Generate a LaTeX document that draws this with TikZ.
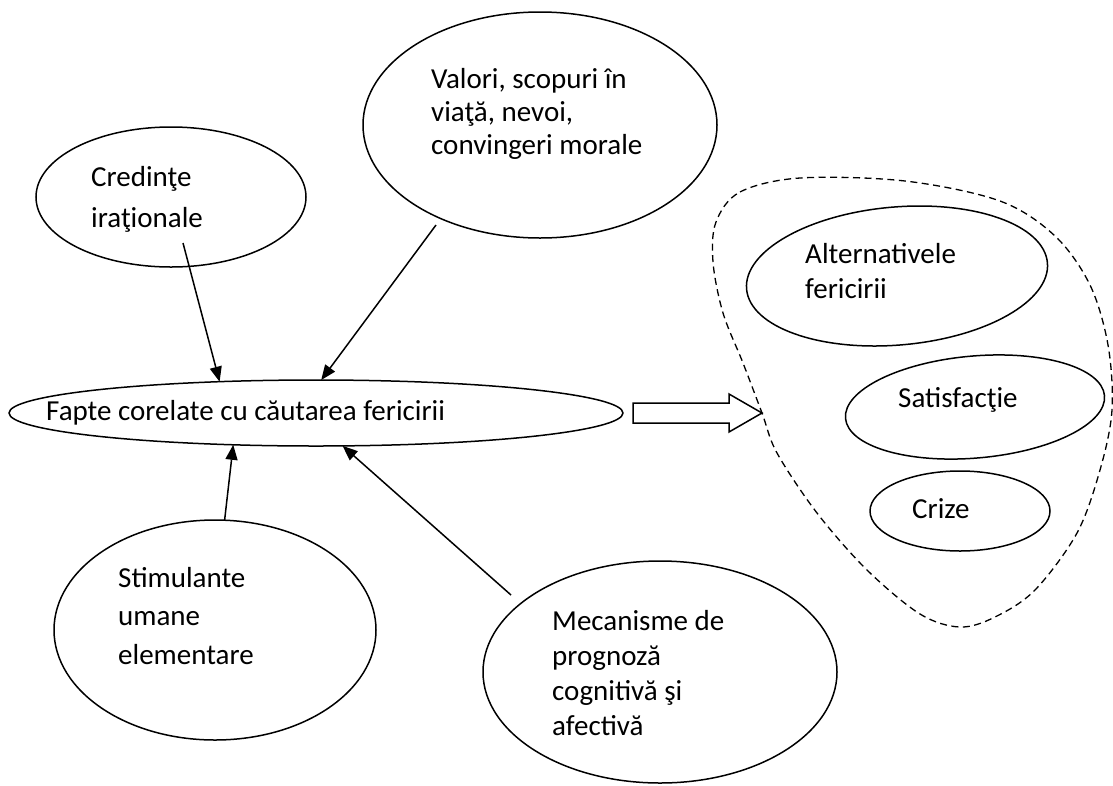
\documentclass[tikz,border=0pt]{standalone}
\usepackage{fontspec}
\setmainfont{Carlito}
\usetikzlibrary{arrows.meta,calc,shapes.geometric}
\begin{document}
\begin{tikzpicture}[x=1pt,y=-1pt,
  oval/.style={draw, ellipse, line width=1.5pt, inner sep=0pt, outer sep=0pt},
  lbl/.style={anchor=base west, inner sep=0pt, align=left},
  fs/.style={font=\fontsize{29}{#1}\selectfont},
  conn/.style={line width=1.5pt, -{Triangle[length=15pt,width=12pt]}},
  hollow/.style={line width=1.5pt, line join=miter},
  blob/.style={line width=1.3pt, dash pattern=on 7pt off 4.5pt},
]
\useasboundingbox (0,0) rectangle (1113,785);

% ellipses
\node[oval, minimum width=270, minimum height=140] (cred) at (171,197) {};
\node[oval, minimum width=354, minimum height=226] (val) at (540,125) {};
\node[oval, minimum width=614, minimum height=66] (fapte) at (316,413) {};
\node[oval, minimum width=322, minimum height=220] (stim) at (215,630) {};
\node[oval, minimum width=354, minimum height=222] (mec) at (660,672) {};
\node[oval, minimum width=302, minimum height=138, rotate=5] (alt) at (897,276) {};
\node[oval, minimum width=260, minimum height=102, rotate=5] (sat) at (975,407) {};
\node[oval, minimum width=180, minimum height=80] (criz) at (960,511) {};

% texts (anchor = baseline of the last line)
\node[lbl, fs=41] (credT) at (91,227) {Credinţe\\iraţionale};
\node[lbl, fs=33] (valT) at (431,154) {Valori, scopuri în\\viaţă, nevoi,\\convingeri morale};
\node[lbl, fs=35] (fapteT) at (46,420) {Fapte corelate cu căutarea fericirii};
\node[lbl, fs=38.5] (stimT) at (118,664) {Stimulante\\umane\\elementare};
\node[lbl, fs=35] (mecT) at (552,735) {Mecanisme de\\prognoză\\cognitivă şi\\afectivă};
\node[lbl, fs=35] (altT) at (805,298) {Alternativele\\fericirii};
\node[lbl, fs=35] (satT) at (898,407) {Satisfacţie};
\node[lbl, fs=35] (crizT) at (912,518) {Crize};

% connectors
\draw[conn] ($(cred.center)+(12,46)$) -- (fapte.162.6);
\draw[conn] ($(val.center)+(-104,100)$) -- (fapte.81.4);
\draw[conn] (stim.85) -- (fapte.201.3);
\draw[conn] ($(mec.center)+(-149,-77)$) -- (fapte.309.3);

% hollow block arrow
\draw[hollow] ([shift={(10,-10)}]fapte.east) -- ++(96,0) -- ++(0,-9) -- ++(33,19)
  -- ++(-33,19) -- ++(0,-9) -- ++(-96,0) -- cycle;

% dashed outline
\draw[blob] plot[smooth cycle, tension=0.55] coordinates {
  (716,222) (740,192) (800,178) (905,181) (1000,201) (1055,236) (1090,285)
  (1108,345) (1112,410) (1100,470) (1077,533) (1035,590) (995,617) (960,627)
  (920,614) (867,570) (817,513) (777,453) (762,413) (743,363) (723,313) (713,262)};
\end{tikzpicture}
\end{document}
